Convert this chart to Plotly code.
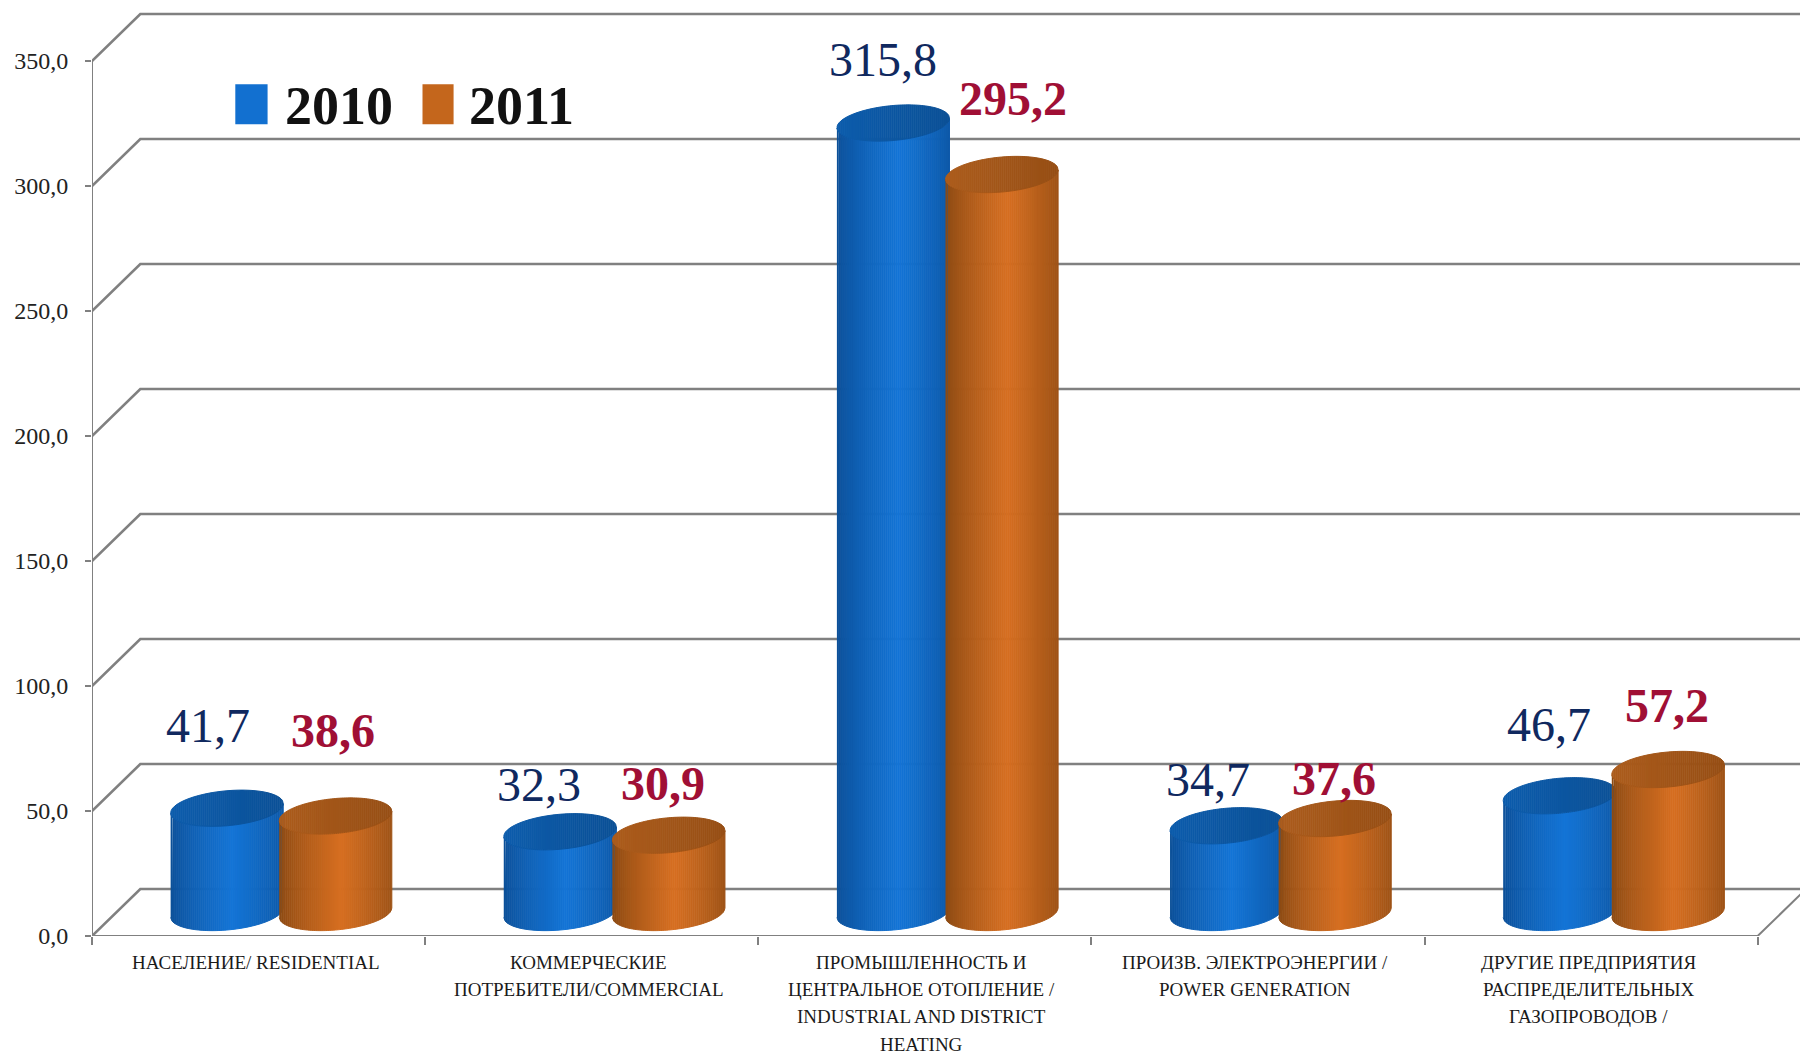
import numpy as np
import plotly.graph_objects as go

years = ["2010", "2011"]
values_2010 = [41.7, 32.3, 315.8, 34.7, 46.7]
values_2011 = [38.6, 30.9, 295.2, 37.6, 57.2]
value_labels_2010 = ["41,7", "32,3", "315,8", "34,7", "46,7"]
value_labels_2011 = ["38,6", "30,9", "295,2", "37,6", "57,2"]
y_ticks = [0, 50, 100, 150, 200, 250, 300, 350]
category_lines = [
    ["НАСЕЛЕНИЕ/ RESIDENTIAL"],
    ["КОММЕРЧЕСКИЕ", "ПОТРЕБИТЕЛИ/COMMERCIAL"],
    ["ПРОМЫШЛЕННОСТЬ И", "ЦЕНТРАЛЬНОЕ ОТОПЛЕНИЕ /", "INDUSTRIAL AND DISTRICT", "HEATING"],
    ["ПРОИЗВ. ЭЛЕКТРОЭНЕРГИИ /", "POWER GENERATION"],
    ["ДРУГИЕ ПРЕДПРИЯТИЯ", "РАСПРЕДЕЛИТЕЛЬНЫХ", "ГАЗОПРОВОДОВ /"],
]

# fake 3d geometry, in axis units (1 category wide, y in values)
DEPTH_X = 0.145
DEPTH_Y = 18.8
BASE_Y = 9.4
HALF_W = 0.169
RY = 7.0
TILT = 1.9
BAR_POS = [0.405, 0.731]
N_STRIPS = 56

# label nudges in pixels from the centre of each cylinder top
shift_2010 = [(-19, 83), (-21, 47), (-10, 64), (-18, 46), (-10, 71)]
shift_2011 = [(-3, 86), (-6, 52), (11, 76), (-1, 40), (-1, 64)]

GRID = "#808080"


def mix(c1, c2, t):
    rgb = [round(a + (b - a) * t) for a, b in zip(c1, c2)]
    return f"rgb({rgb[0]},{rgb[1]},{rgb[2]})"


def add_cylinders(fig, values, offset, edge, mid, top_left, top_right):
    us = np.linspace(-1, 1, N_STRIPS + 1) * 0.9999
    # one body strip and one top strip per colour step, all bars in one trace
    for j in range(N_STRIPS):
        u = np.linspace(us[j], us[j + 1], 4)
        dip = RY * np.sqrt(1 - u ** 2)
        body_x, body_y, cap_x, cap_y = [], [], [], []
        for i, v in enumerate(values):
            x = i + offset + HALF_W * u
            xs = list(x) + list(x[::-1]) + [None]
            body_x += xs
            body_y += list(BASE_Y + TILT * u - dip) + list((BASE_Y + v + TILT * u - dip)[::-1]) + [None]
            cap_x += xs
            cap_y += list(BASE_Y + v + TILT * u - dip) + list((BASE_Y + v + TILT * u + dip)[::-1]) + [None]
        um = (us[j] + us[j + 1]) / 2
        t = max(0, 1 - abs(um - 0.1) / 1.1) ** 0.75
        body_color = mix(edge, mid, t)
        cap_color = mix(top_left, top_right, (um + 1) / 2)
        for px, py, color in [(body_x, body_y, body_color), (cap_x, cap_y, cap_color)]:
            fig.add_trace(go.Scatter(x=px, y=py, mode="lines", fill="toself", fillcolor=color,
                                     line=dict(width=1, color=color), hoverinfo="skip", showlegend=False))


fig = go.Figure()

# back wall lines with their diagonal returns to the value axis
wall_x, wall_y = [], []
for t in y_ticks:
    wall_x += [0, DEPTH_X, 6, None]
    wall_y += [t, t + DEPTH_Y, t + DEPTH_Y, None]
fig.add_trace(go.Scatter(x=wall_x, y=wall_y, mode="lines", line=dict(width=2.6, color=GRID),
                         hoverinfo="skip", showlegend=False))
n = len(category_lines)
fig.add_trace(go.Scatter(x=[0, n, n + DEPTH_X, None, 0, 0], y=[0, 0, DEPTH_Y, None, 0, y_ticks[-1]], mode="lines",
                         line=dict(width=2, color=GRID), hoverinfo="skip", showlegend=False, cliponaxis=False))

add_cylinders(fig, values_2010, BAR_POS[0], (11, 78, 150), (19, 116, 214), (12, 92, 172), (11, 80, 150))
add_cylinders(fig, values_2011, BAR_POS[1], (136, 72, 18), (214, 110, 32), (172, 92, 28), (150, 78, 20))

annotations = []
for series, texts, shifts, offset, color, bold in [
    (values_2010, value_labels_2010, shift_2010, BAR_POS[0], "#10295f", False),
    (values_2011, value_labels_2011, shift_2011, BAR_POS[1], "#a00f35", True),
]:
    for i, v in enumerate(series):
        label = f"<b>{texts[i]}</b>" if bold else texts[i]
        annotations.append(dict(x=i + offset, y=BASE_Y + v, text=label, showarrow=False, xshift=shifts[i][0],
                                yshift=shifts[i][1], font=dict(family="Liberation Serif", size=48, color=color)))

for i, lines in enumerate(category_lines):
    for k, line in enumerate(lines):
        annotations.append(dict(x=i + 0.5, y=0, text=line, showarrow=False, xshift=-3, yshift=-26.5 - 27.2 * k,
                                yanchor="middle", borderpad=0,
                                font=dict(family="Liberation Serif", size=19, color="#1a1a1a")))

# legend: swatches and year labels
annotations.append(dict(xref="paper", yref="paper", x=0.112, y=0.887, text=f"<b>{years[0]}</b>", showarrow=False,
                        xanchor="left", yanchor="middle", font=dict(family="Liberation Serif", size=54, color="#111111")))
annotations.append(dict(xref="paper", yref="paper", x=0.2195, y=0.887, text=f"<b>{years[1]}</b>", showarrow=False,
                        xanchor="left", yanchor="middle", font=dict(family="Liberation Serif", size=54, color="#111111")))
shapes = [
    dict(type="rect", xref="paper", yref="paper", x0=0.0839, x1=0.1028, y0=0.8673, y1=0.9101, fillcolor="#1270d0", line_width=0),
    dict(type="rect", xref="paper", yref="paper", x0=0.1935, x1=0.2117, y0=0.8673, y1=0.9101, fillcolor="#c4661c", line_width=0),
]

fig.update_layout(
    width=1800, height=1057, margin=dict(l=92, r=0, t=0, b=121.4),
    plot_bgcolor="white", paper_bgcolor="white", separators=",.",
    showlegend=False, annotations=annotations, shapes=shapes,
    xaxis=dict(range=[0, 5.127], tickvals=list(range(n + 1)), showticklabels=False, ticks="outside", ticklen=8,
               tickwidth=1.5, tickcolor=GRID, showgrid=False, zeroline=False, showline=False),
    yaxis=dict(range=[0, 374.4], tickvals=y_ticks, tickformat=".1f", ticks="outside", ticklen=6, tickwidth=1.5,
               tickcolor=GRID, ticklabelstandoff=12, showgrid=False, zeroline=False, showline=False,
               tickfont=dict(family="Liberation Serif", size=24, color="#222222")),
)

fig.write_html("out.html", config=dict(displayModeBar=False), post_script="document.body.style.margin='0';")
